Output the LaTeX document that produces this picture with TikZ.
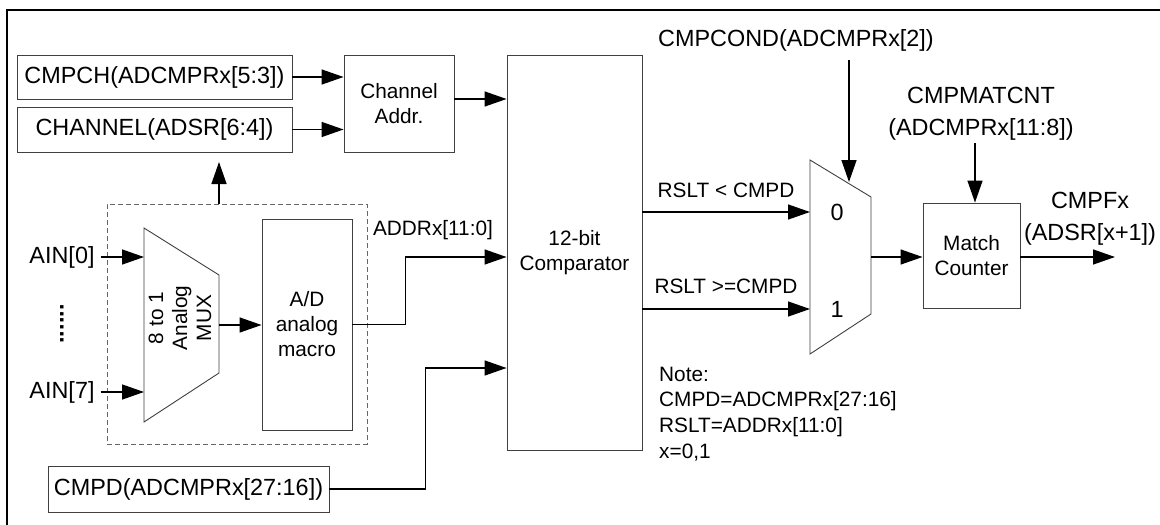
\documentclass[tikz,border=0pt]{standalone}
\usepackage{fontspec}
\setmainfont{Liberation Sans}
\usetikzlibrary{arrows.meta}
\begin{document}
\begin{tikzpicture}[x=1pt,y=-1pt,
  box/.style={draw=black!75, line width=0.9pt, inner sep=0pt},
  outline/.style={draw=black!75, line width=0.9pt},
  big/.style={font=\fontsize{23.4}{26}\selectfont},
  small/.style={font=\fontsize{20.8}{25}\selectfont},
  conn/.style={line width=1.4pt, -{Triangle[length=22pt,width=15pt]}},
  lbl/.style={inner sep=0pt, align=center}]
\useasboundingbox (0,0) rectangle (1160,525);
\fill[white] (0,0) rectangle (1160,525);
\draw[line width=2pt] (7,525) -- (7,10) -- (1160,10);

% left top boxes
\node[box, big, minimum width=275, minimum height=44] (cmpch) at (154.5,77) {CMPCH(ADCMPRx[5:3])};
\node[box, big, minimum width=275, minimum height=45] (chan) at (154.5,129.5) {CHANNEL(ADSR[6:4])};
\node[box, small, minimum width=110, minimum height=97, align=center] (chaddr) at (399,103.5) {Channel\\Addr.};
\node[box, small, minimum width=135, minimum height=395, align=center] (comp) at (574.5,252.5) {12-bit\\Comparator};

\draw[conn] (cmpch.east) -- (cmpch.east -| chaddr.west);
\draw[conn] (chan.east) -- (chan.east -| chaddr.west);
\draw[conn] ([yshift=4.5pt]chaddr.east) -- ([yshift=4.5pt]chaddr.east -| comp.west);

% ADC block
\node[draw=black!60, dash pattern=on 5pt off 3pt, line width=0.9pt, minimum width=260, minimum height=240, inner sep=0pt] (adc) at (237,324) {};
\coordinate (upend) at (219,162);
\draw[conn] (adc.north -| upend) -- (upend);

\coordinate (m1a) at (144,228);
\coordinate (m1b) at (219,275);
\coordinate (m1c) at (219,373);
\coordinate (m1d) at (144,422);
\draw[outline] (m1a) -- (m1b) -- (m1c) -- (m1d) -- cycle;
\node[lbl, rotate=90, font=\fontsize{20.8}{24}\selectfont] (mux1) at (180,318) {8 to 1\\Analog\\MUX};

\node[box, small, minimum width=90, minimum height=211, align=center] (ad) at (307,324.5) {A/D\\analog\\macro};
\coordinate (m1out) at (219,325);
\draw[conn] (m1out) -- (m1out -| ad.west);

\node[lbl, big] (ain0) at (62,257) {AIN[0]};
\node[lbl, big] (ain7) at (62,392) {AIN[7]};
\node[lbl, font=\fontsize{23.4}{26}\bfseries, rotate=90] (dots) at (62,324) {......};
\draw[conn] ([xshift=6pt]ain0.east) -- (ain0.east -| m1a);
\draw[conn] ([xshift=6pt]ain7.east) -- (ain7.east -| m1a);

\node[lbl, small] (addrl) at (433,230) {ADDRx[11:0]};
\draw[conn] (ad.east) -- ++(53,0) |- (comp.west |- ain0.center);

\node[box, big, minimum width=281, minimum height=46] (cmpd) at (188.5,489) {CMPD(ADCMPRx[27:16])};
\draw[conn] (cmpd.east) -- ++(96,0) |- ([yshift=-115.5pt]comp.west);

% second mux
\coordinate (m2a) at (810,160);
\coordinate (m2b) at (871,197);
\coordinate (m2c) at (871,314);
\coordinate (m2d) at (810,354);
\draw[outline] (m2a) -- (m2b) -- (m2c) -- (m2d) -- cycle;
\coordinate (in0) at (810,212);
\coordinate (in1) at (810,309);
\draw[conn] (comp.east |- in0) -- (in0);
\draw[conn] (comp.east |- in1) -- (in1);
\node[lbl, small] (lt) at (726,190) {RSLT < CMPD};
\node[lbl, small] (ge) at (726,286) {RSLT >=CMPD};
\node[lbl, big] (zero) at (837,212) {0};
\node[lbl, big] (one) at (837,309) {1};

\node[lbl, big] (cond) at (796,40) {CMPCOND(ADCMPRx[2])};
\coordinate (condend) at (849,182);
\draw[conn] (condend |- 0,60) -- (condend);

\node[box, small, minimum width=97, minimum height=105, align=center] (match) at (971.5,255.5) {Match\\Counter};
\coordinate (m2out) at (871,257);
\draw[conn] (m2out) -- (m2out -| match.west);

\node[lbl, font=\fontsize{23.4}{32}\selectfont] (matcnt) at (981,114) {CMPMATCNT\\(ADCMPRx[11:8])};
\coordinate (mctop) at (975,143);
\draw[conn] (mctop) -- (match.north -| mctop);

\node[lbl, font=\fontsize{23.4}{32}\selectfont] (cmpf) at (1090,219) {CMPFx\\(ADSR[x+1])};
\coordinate (outend) at (1115,257);
\draw[conn] (match.east |- outend) -- (outend);

\node[lbl, align=left, anchor=west, font=\fontsize{20.8}{25.7}\selectfont] (note) at (659,414) {Note:\\CMPD=ADCMPRx[27:16]\\RSLT=ADDRx[11:0]\\x=0,1};
\end{tikzpicture}
\end{document}
